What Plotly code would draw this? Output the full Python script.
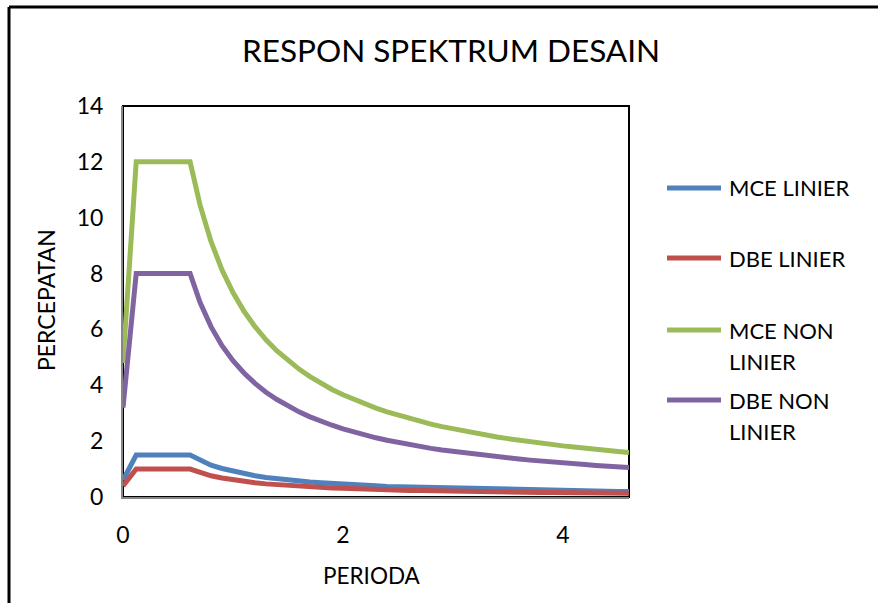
import plotly.graph_objects as go

# Periode getar T (detik)
periode = [0, 0.12, 0.61, 0.7, 0.8, 0.9, 1.0, 1.1, 1.2, 1.3, 1.4, 1.5, 1.6, 1.7, 1.8,
           1.9, 2.0, 2.1, 2.2, 2.3, 2.4, 2.5, 2.6, 2.7, 2.8, 2.9, 3.0, 3.1, 3.2,
           3.3, 3.4, 3.5, 3.6, 3.7, 3.8, 3.9, 4.0, 4.1, 4.2, 4.3, 4.4, 4.5, 4.6]

mce_linier = [0.60, 1.50, 1.50, 1.31, 1.14, 1.02, 0.92, 0.83, 0.76, 0.70, 0.65, 0.61,
              0.57, 0.54, 0.51, 0.48, 0.46, 0.44, 0.42, 0.40, 0.38, 0.37, 0.35, 0.34,
              0.33, 0.32, 0.31, 0.30, 0.29, 0.28, 0.27, 0.26, 0.25, 0.25, 0.24, 0.23,
              0.23, 0.22, 0.22, 0.21, 0.21, 0.20, 0.20]

dbe_linier = [0.40, 1.00, 1.00, 0.87, 0.76, 0.68, 0.61, 0.55, 0.51, 0.47, 0.44, 0.41,
              0.38, 0.36, 0.34, 0.32, 0.31, 0.29, 0.28, 0.27, 0.25, 0.24, 0.23, 0.23,
              0.22, 0.21, 0.20, 0.20, 0.19, 0.18, 0.18, 0.17, 0.17, 0.16, 0.16, 0.16,
              0.15, 0.15, 0.15, 0.14, 0.14, 0.14, 0.13]

mce_non_linier = [4.80, 12.00, 12.00, 10.46, 9.15, 8.13, 7.32, 6.65, 6.10, 5.63, 5.23,
                  4.88, 4.58, 4.31, 4.07, 3.85, 3.66, 3.49, 3.33, 3.18, 3.05, 2.93,
                  2.82, 2.71, 2.61, 2.52, 2.44, 2.36, 2.29, 2.22, 2.15, 2.09, 2.03,
                  1.98, 1.93, 1.88, 1.83, 1.79, 1.74, 1.70, 1.66, 1.63, 1.59]

dbe_non_linier = [3.20, 8.00, 8.00, 6.97, 6.10, 5.42, 4.88, 4.44, 4.07, 3.75, 3.49,
                  3.25, 3.05, 2.87, 2.71, 2.57, 2.44, 2.32, 2.22, 2.12, 2.03, 1.95,
                  1.88, 1.81, 1.74, 1.68, 1.63, 1.57, 1.53, 1.48, 1.44, 1.39, 1.36,
                  1.32, 1.28, 1.25, 1.22, 1.19, 1.16, 1.13, 1.11, 1.08, 1.06]

series = [
    (["MCE LINIER"], mce_linier, "#4F81BD"),
    (["DBE LINIER"], dbe_linier, "#C0504D"),
    (["MCE NON", "LINIER"], mce_non_linier, "#9BBB59"),
    (["DBE NON", "LINIER"], dbe_non_linier, "#8064A2"),
]

FONT = "Lato"
W, H = 878, 603
L, R, T, B = 123, 629, 106, 497  # plot area in pixels


def px_x(p):
    return (p - L) / (R - L)


def px_y(p):
    return (B - p) / (B - T)


fig = go.Figure()
for label, vals, color in series:
    fig.add_trace(go.Scatter(
        x=periode, y=vals, mode="lines", name=" ".join(label),
        line=dict(color=color, width=5), showlegend=False,
    ))

shapes = []
annotations = []

# legend drawn at the right side of the plot
legend_rows = [188, 258, 330, 400]
for (label, vals, color), ry in zip(series, legend_rows):
    shapes.append(dict(type="line", xref="paper", yref="paper",
                       x0=px_x(667), x1=px_x(721), y0=px_y(ry), y1=px_y(ry),
                       line=dict(color=color, width=5)))
    for i, line_txt in enumerate(label):
        annotations.append(dict(
            text=line_txt, xref="paper", yref="paper",
            x=px_x(727), y=px_y(ry + 31 * i), xanchor="left", yanchor="middle",
            showarrow=False, font=dict(family=FONT, size=22, color="#000000")))

# title and axis titles
annotations.append(dict(text="RESPON SPEKTRUM DESAIN", xref="paper", yref="paper",
                        x=px_x(451), y=px_y(50), xanchor="center", yanchor="middle",
                        showarrow=False, font=dict(family=FONT, size=31.5, color="#000000")))
annotations.append(dict(text="PERIODA", xref="paper", yref="paper",
                        x=px_x(372), y=px_y(575), xanchor="center", yanchor="middle",
                        showarrow=False, font=dict(family=FONT, size=22.5, color="#000000")))
annotations.append(dict(text="PERCEPATAN", xref="paper", yref="paper",
                        x=px_x(46), y=px_y(300), xanchor="center", yanchor="middle",
                        textangle=-90, showarrow=False,
                        font=dict(family=FONT, size=23, color="#000000")))

# plot area frame
shapes.append(dict(type="rect", xref="paper", yref="paper", x0=0, x1=1, y0=0, y1=1,
                   line=dict(color="#000000", width=2), layer="below"))
# outer chart frame (top and left edges)
shapes.append(dict(type="line", xref="paper", yref="paper",
                   x0=px_x(9), x1=px_x(W + 50), y0=px_y(7), y1=px_y(7),
                   line=dict(color="#000000", width=3)))
shapes.append(dict(type="line", xref="paper", yref="paper",
                   x0=px_x(9), x1=px_x(9), y0=px_y(7), y1=px_y(H + 50),
                   line=dict(color="#000000", width=3)))

fig.update_layout(
    width=W, height=H,
    margin=dict(l=L, r=W - R, t=T, b=H - B),
    paper_bgcolor="white", plot_bgcolor="white",
    font=dict(family=FONT, size=23, color="#000000"),
    shapes=shapes, annotations=annotations,
    xaxis=dict(range=[0, 4.6], tickvals=[0, 2, 4], showgrid=False, zeroline=False,
               showline=True, linecolor="#868686", linewidth=2, ticks="",
               ticklabelstandoff=16),
    yaxis=dict(range=[0, 14], dtick=2, showgrid=False, zeroline=False,
               showline=True, linecolor="#868686", linewidth=2, ticks="",
               ticklabelstandoff=13),
)

fig.write_html("out.html")
